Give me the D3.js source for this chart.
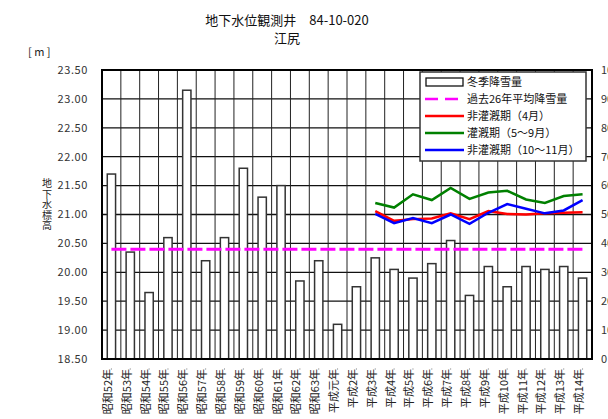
<!DOCTYPE html>
<html>
<head>
<meta charset="utf-8">
<style>
body { margin: 0; background: #fff; }
text { font-family: "Noto Sans CJK JP", "DejaVu Sans", sans-serif; }
</style>
</head>
<body>
<div id="chart"></div>
<script src="https://d3js.org/d3.v7.min.js"></script>
<script>
// data
var years = ["昭和52年","昭和53年","昭和54年","昭和55年","昭和56年","昭和57年","昭和58年","昭和59年",
  "昭和60年","昭和61年","昭和62年","昭和63年","平成元年","平成2年","平成3年","平成4年","平成5年",
  "平成6年","平成7年","平成8年","平成9年","平成10年","平成11年","平成12年","平成13年","平成14年"];
var snow = [64, 37, 23, 42, 93, 34, 42, 66, 56, 60, 27, 34, 12, 25, 35, 31, 28, 33, 41, 22, 32, 25, 32, 31, 32, 28];
var snowAvg = 38;
var lineYears = years.slice(14);
var april = [21.06, 20.89, 20.92, 20.93, 21.02, 20.92, 21.06, 21.01, 21.00, 21.02, 21.03, 21.04];
var irrig = [21.20, 21.12, 21.35, 21.25, 21.46, 21.27, 21.38, 21.41, 21.26, 21.20, 21.32, 21.35];
var autumn = [21.01, 20.85, 20.94, 20.85, 21.00, 20.84, 21.03, 21.18, 21.10, 21.02, 21.07, 21.25];
var leftTicks = [18.5, 19, 19.5, 20, 20.5, 21, 21.5, 22, 22.5, 23, 23.5];
var rightTicks = [0, 10, 20, 30, 40, 50, 60, 70, 80, 90, 100];
var legendLabels = ["冬季降雪量", "過去26年平均降雪量", "非灌漑期（4月）", "灌漑期（5～9月）", "非灌漑期（10～11月）"];

var svg = d3.select("#chart").append("svg")
    .attr("width", 608)
    .attr("height", 419);

var pL = 102, pR = 592, pT = 70, pB = 359;

var x = d3.scaleBand().domain(years).range([pL, pR]).padding(0);
var y = d3.scaleLinear().domain([18.5, 23.5]).range([pB, pT]);
var y2 = d3.scaleLinear().domain([0, 100]).range([pB, pT]);

// title
svg.append("text").attr("x", 287).attr("y", 25).attr("text-anchor", "middle")
  .attr("font-size", 13).attr("fill", "#111").text("地下水位観測井　84-10-020");
svg.append("text").attr("x", 287).attr("y", 43).attr("text-anchor", "middle")
  .attr("font-size", 13).attr("fill", "#111").text("江尻");
svg.append("text").attr("x", 28).attr("y", 56)
  .attr("font-size", 11).attr("fill", "#222").text("[ m ]");

// grid
svg.append("g").selectAll("line").data(leftTicks).enter().append("line")
  .attr("x1", pL).attr("x2", pR)
  .attr("y1", function(d) { return y(d); }).attr("y2", function(d) { return y(d); })
  .attr("stroke", "#111").attr("stroke-width", 1.3);
svg.append("g").selectAll("line").data(years.slice(1)).enter().append("line")
  .attr("x1", function(d) { return x(d); }).attr("x2", function(d) { return x(d); })
  .attr("y1", pT).attr("y2", pB)
  .attr("stroke", "#222").attr("stroke-width", 1);

// bars
var bw = x.bandwidth() * 0.44;
svg.append("g").selectAll("rect").data(snow).enter().append("rect")
  .attr("x", function(d, i) { return x(years[i]) + x.bandwidth() / 2 - bw / 2; })
  .attr("y", function(d) { return y2(d); })
  .attr("width", bw)
  .attr("height", function(d) { return pB - y2(d); })
  .attr("fill", "#fff").attr("stroke", "#333").attr("stroke-width", 1.5);

// average
svg.append("line")
  .attr("x1", x(years[0]) + x.bandwidth() / 2)
  .attr("x2", x(years[years.length - 1]) + x.bandwidth() / 2)
  .attr("y1", y2(snowAvg)).attr("y2", y2(snowAvg))
  .attr("stroke", "#ff00ff").attr("stroke-width", 3)
  .attr("stroke-dasharray", "15,4");

// lines
var line = d3.line()
  .x(function(d, i) { return x(lineYears[i]) + x.bandwidth() / 2; })
  .y(function(d) { return y(d); });
[[irrig, "#008000"], [april, "#ff0000"], [autumn, "#0000ff"]].forEach(function(s) {
  svg.append("path").datum(s[0]).attr("d", line)
    .attr("fill", "none").attr("stroke", s[1]).attr("stroke-width", 2.5);
});

// frame
svg.append("rect").attr("x", pL).attr("y", pT)
  .attr("width", pR - pL).attr("height", pB - pT)
  .attr("fill", "none").attr("stroke", "#000").attr("stroke-width", 2);

// small ticks under axis
svg.append("g").selectAll("line").data(years).enter().append("line")
  .attr("x1", function(d) { return x(d) + x.bandwidth() / 2; })
  .attr("x2", function(d) { return x(d) + x.bandwidth() / 2; })
  .attr("y1", 368).attr("y2", 370)
  .attr("stroke", "#bbb").attr("stroke-width", 1);

// left axis labels
svg.append("g").selectAll("text").data(leftTicks).enter().append("text")
  .attr("x", 88).attr("y", function(d) { return y(d); }).attr("dy", "0.35em")
  .attr("text-anchor", "end").attr("font-size", 11).attr("fill", "#333")
  .attr("letter-spacing", 0.6)
  .text(function(d) { return d.toFixed(2); });

// right axis labels
svg.append("g").selectAll("text").data(rightTicks).enter().append("text")
  .attr("x", 601).attr("y", function(d) { return y2(d); }).attr("dy", "0.35em")
  .attr("font-size", 11).attr("fill", "#333")
  .text(function(d) { return d; });

// y title, one char per line
svg.append("g").selectAll("text").data("地下水標高".split("")).enter().append("text")
  .attr("x", 47).attr("y", function(d, i) { return 187 + i * 10.6; })
  .attr("text-anchor", "middle").attr("font-size", 10).attr("fill", "#222")
  .text(function(d) { return d; });

// x labels
svg.append("g").selectAll("text").data(years).enter().append("text")
  .attr("transform", function(d) { return "translate(" + (x(d) + x.bandwidth() / 2 + 0.5) + ",369) rotate(-90)"; })
  .attr("text-anchor", "end").attr("font-size", 11).attr("fill", "#222")
  .text(function(d) { return d; });

// legend
var lg = svg.append("g");
lg.append("rect").attr("x", 420).attr("y", 72).attr("width", 166).attr("height", 89)
  .attr("fill", "#fff").attr("stroke", "#333").attr("stroke-width", 1.5);
var items = lg.selectAll("g").data(legendLabels).enter().append("g")
  .attr("transform", function(d, i) { return "translate(0," + (82 + i * 17) + ")"; });
items.append("text").attr("x", 467).attr("y", 0).attr("dy", "0.35em")
  .attr("font-size", 11).attr("fill", "#111").text(function(d) { return d; });
items.each(function(d, i) {
  var g = d3.select(this);
  if (i === 0) {
    g.append("rect").attr("x", 426).attr("y", -4).attr("width", 37).attr("height", 8)
      .attr("fill", "#fff").attr("stroke", "#111").attr("stroke-width", 1.3);
  } else {
    var c = ["#ff00ff", "#ff0000", "#008000", "#0000ff"][i - 1];
    g.append("line").attr("x1", 425).attr("x2", 464).attr("y1", 0).attr("y2", 0)
      .attr("stroke", c).attr("stroke-width", 2.5)
      .attr("stroke-dasharray", i === 1 ? "13,7" : null);
  }
});
</script>
</body>
</html>
